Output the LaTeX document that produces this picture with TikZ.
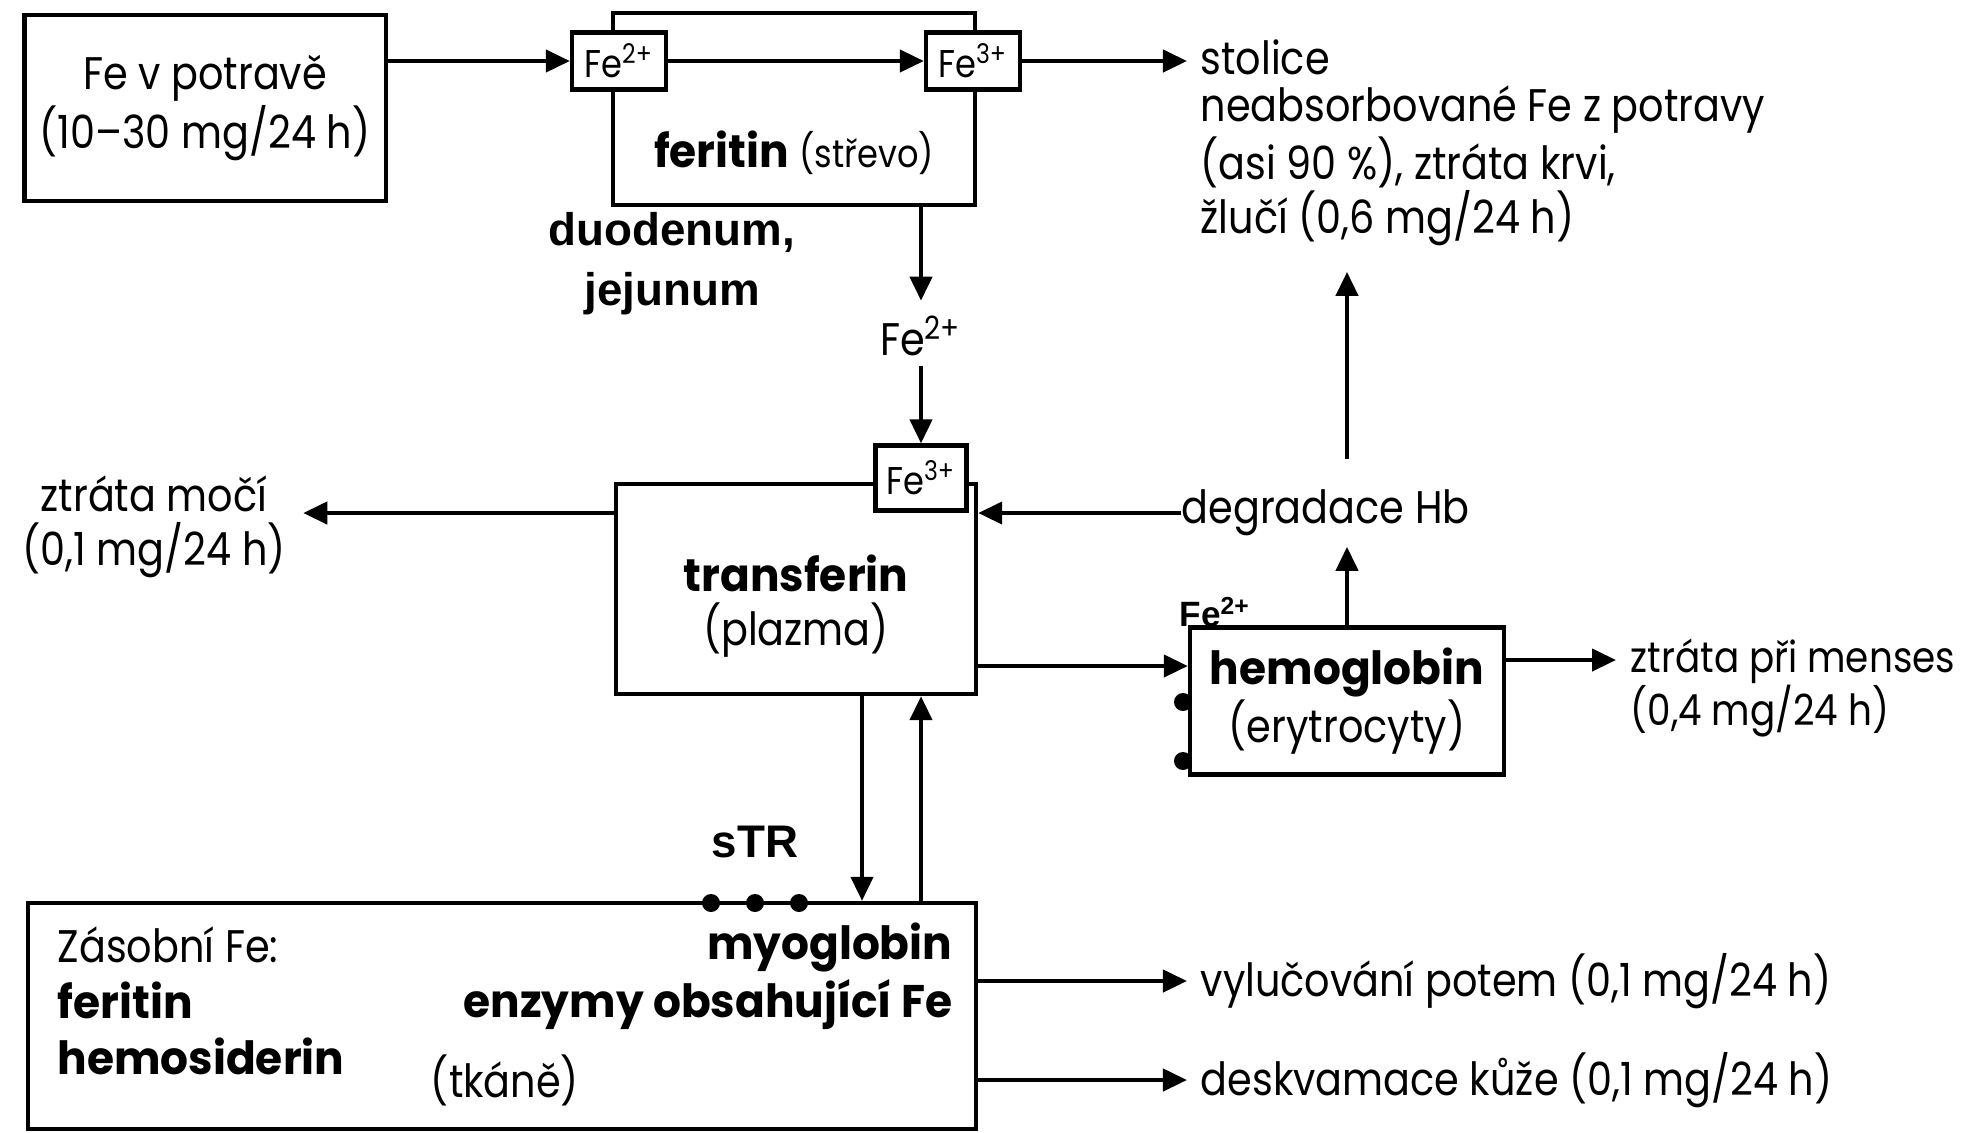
\documentclass[tikz,border=0pt]{standalone}
\usepackage{fontspec}
\setmainfont{Poppins}[FakeStretch=0.87, BoldFeatures={FakeStretch=0.96}]
\newfontfamily\arialfont{Liberation Sans}
\usetikzlibrary{arrows.meta,positioning}

\begin{document}
\begin{tikzpicture}[x=0.01cm, y=-0.01cm,
  box/.style={draw, line width=1.2pt, inner sep=0pt, align=center, font=\fontsize{13}{15}\selectfont},
  ion/.style={draw, fill=white, line width=1.2pt, inner sep=0pt, minimum width=0.94cm, minimum height=0.57cm, font=\fontsize{11}{12}\selectfont},
  txt/.style={inner sep=0pt, font=\fontsize{13}{15.4}\selectfont},
  lbl/.style={inner sep=0pt, align=center, font=\arialfont\bfseries\fontsize{13}{17}\selectfont},
  dot/.style={circle, fill, inner sep=0pt, minimum size=0.18cm},
  arr/.style={-{Triangle[length=2.4mm, width=2.2mm]}, line width=1.2pt}]
 \useasboundingbox (0,0) rectangle (1970,1132);
 % intestine
 \node[box, minimum width=3.61cm, minimum height=1.86cm] (food) at (205,108) {Fe v potravě\\(10--30 mg/24 h)};
 \node[box, minimum width=3.62cm, minimum height=1.92cm] (fer) at (794,109) {};
 \node[txt] (fert) at (794,153) {\textbf{feritin} {\fontsize{11}{13}\selectfont(střevo)}};
 \node[ion] (fa) at (619,61) {Fe\textsuperscript{2+}};
 \node[ion] (fb) at (973,61) {Fe\textsuperscript{3+}};
 \node[lbl] (duo) at (672,264) {duodenum,\\jejunum};
 \node[txt, anchor=west] (stol) at (1200,57) {stolice};
 \node[txt, anchor=west, align=left] (neab) at (1200,166) {neabsorbované Fe z potravy\\(asi 90 \%), ztráta krvi,\\žlučí (0,6 mg/24 h)};
 % plasma
 \node[box, minimum width=3.60cm, minimum height=2.10cm] (trf) at (796,589) {};
 \node[txt, align=center] (trft) at (796,606) {\textbf{transferin}\\(plazma)};
 \node[ion, minimum width=0.91cm, minimum height=0.65cm] (fc) at (921,478) {Fe\textsuperscript{3+}};
 \node[txt] (fe2) at (921,336) {Fe\textsuperscript{2+}};
 \node[txt, align=center] (moc) at (154,527) {ztráta močí\\(0,1 mg/24 h)};
 \node[txt, anchor=west] (deg) at (1181,513) {degradace Hb};
 \node[box, minimum width=3.14cm, minimum height=1.47cm] (hb) at (1347,701) {\textbf{hemoglobin}\\(erytrocyty)};
 \node[lbl, font=\arialfont\bfseries\fontsize{10}{12}\selectfont] (fehb) at (1215,612) {Fe\textsuperscript{2+}};
 \node[dot] (d1) at (1183,702) {};
 \node[dot] (d2) at (1183,761) {};
 \node[txt, anchor=west, align=left, font=\fontsize{12.2}{15}\selectfont] (mens) at (1630,688) {ztráta při menses\\(0,4 mg/24 h)};
 % tissues
 \node[box, minimum width=9.48cm, minimum height=2.26cm] (zas) at (502,1016) {};
 \node[lbl] (str) at (755,842) {sTR};
 \foreach \i/\x in {1/711,2/755,3/799} \node[dot] (s\i) at (\x,903) {};
 \node[txt, anchor=west, align=left, font=\fontsize{13}{16}\selectfont] (zast) at (57,1001) {Zásobní Fe:\\\textbf{feritin}\\\textbf{hemosiderin}};
 \node[txt, anchor=east, align=right, font=\fontsize{13}{16.5}\selectfont] (myo) at (953,976) {\textbf{myoglobin}\\\textbf{enzymy obsahující Fe}};
 \node[txt] (tk) at (505,1080) {(tkáně)};
 \node[txt, anchor=west] (pot) at (1200,981) {vylučování potem (0,1 mg/24 h)};
 \node[txt, anchor=west] (kuz) at (1200,1080) {deskvamace kůže (0,1 mg/24 h)};
 \coordinate (dn) at (862,694);
 \coordinate (hbin) at (1190,666);
 \coordinate (mensin) at (1616,660);
 % arrows
 \draw[arr] (food.east |- fa) -- (fa.west);
 \draw[arr] (fa) -- (fb);
 \draw[arr, shorten >=1.3mm] (fb.east) -- (fb.east -| stol.west);
 \draw[arr, shorten >=1.5mm] (fer.south -| fc) -- (fe2.north);
 \draw[arr, shorten <=1mm] (fe2.south) -- (fc.north);
 \draw[arr] (deg.west) -- (deg.west -| trf.east);
 \draw[arr, shorten >=1.7mm] (trf.west |- deg.west) -- (moc.east |- deg.west);
 \draw[arr, shorten >=1mm] (hb.north) -- (deg.south -| hb.north);
 \draw[arr, shorten <=3mm, shorten >=2.5mm] (deg.north -| hb.north) -- (neab.south -| hb.north);
 \draw[arr] (hbin -| trf.east) -- (hbin -| hb.west);
 \draw[arr] (hb.east |- mensin) -- (mensin);
 \draw[arr] (trf.south -| dn) -- (zas.north -| dn);
 \draw[arr] (zas.north -| fc) -- (trf.south -| fc);
 \foreach \t in {pot,kuz} \draw[arr, shorten >=1.3mm] (zas.east |- \t) -- (\t.west);
\end{tikzpicture}
\end{document}
